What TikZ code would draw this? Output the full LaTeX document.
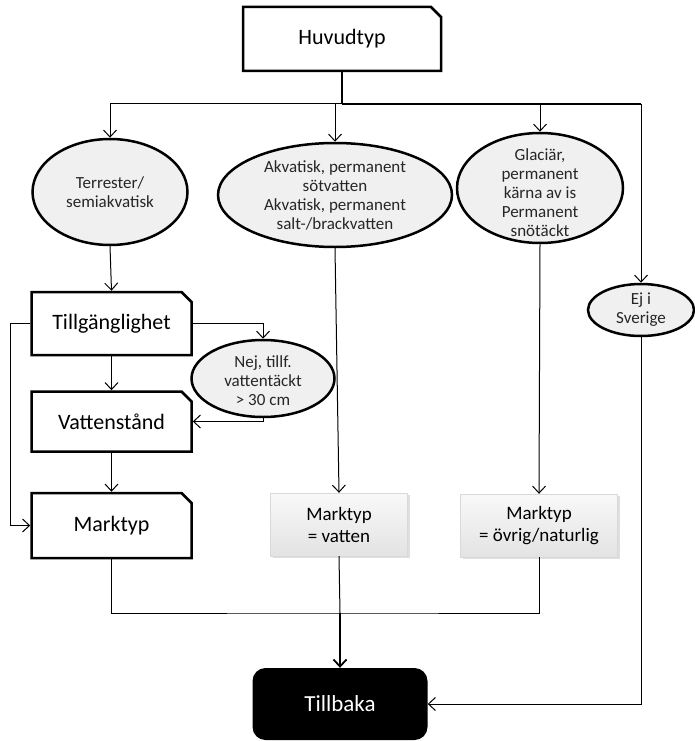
\documentclass[tikz,border=0pt]{standalone}
\usepackage{fontspec}
\setmainfont{Carlito}
\usepackage{tikz}
\usetikzlibrary{positioning,shapes.misc,shapes.geometric,shadows,arrows.meta,calc}

\begin{document}
\begin{tikzpicture}[x=1pt,y=-1pt,
		>={Straight Barb[length=7pt,width=13pt]},
		typ/.style={chamfered rectangle, chamfered rectangle corners=north east,
		chamfered rectangle xsep=5pt, chamfered rectangle ysep=5pt,
		draw, line width=2.5pt, fill=white, inner sep=0pt,
		minimum width=160pt, minimum height=62pt, font=\fontsize{22}{26}\selectfont},
		val/.style={ellipse, draw, line width=2.5pt, fill=black!6, inner sep=0pt},
		valtext/.style={align=center, text=black!85, font=\fontsize{17}{19}\selectfont},
		res/.style={rectangle, draw=gray!30, top color=gray!5, bottom color=gray!22,
		drop shadow={shadow xshift=2pt, shadow yshift=-2pt, opacity=0.25},
		minimum height=63pt, align=center, font=\fontsize{19}{22}\selectfont},
		back/.style={rectangle, rounded corners=13pt, fill=black, text=white,
		minimum width=175pt, minimum height=72pt, font=\fontsize{23}{27}\selectfont},
		flow/.style={->, line width=1pt},
		trunk/.style={line width=1.8pt}]

		\useasboundingbox (0,0) rectangle (694,741);

		% huvudtyp och val
		\node[typ, minimum width=198pt, minimum height=64pt] (huv) at (342,39) {Huvudtyp};
		\node[val, minimum width=155pt, minimum height=106pt,
		label={[valtext]center:{Terrester/\\semiakvatisk}}] (terr) at (110,192) {};
		\node[val, minimum width=234pt, minimum height=104pt,
		label={[valtext]center:{Akvatisk, permanent\\sötvatten\\Akvatisk, permanent\\salt-/brackvatten}}] (akv) at (335,195) {};
		\node[val, minimum width=166pt, minimum height=110pt,
		label={[valtext, yshift=-5pt]center:{Glaciär,\\permanent\\kärna av is\\Permanent\\snötäckt}}] (glac) at (540,188) {};
		\node[val, minimum width=106pt, minimum height=52pt,
		label={[valtext]center:{Ej i\\Sverige}}] (ejse) at (641,310) {};

		% terrester gren
		\node[typ, minimum height=63pt] (tillg) at (111.5,323.5) {Tillgänglighet};
		\node[val, minimum width=143pt, minimum height=77pt,
		label={[valtext, yshift=-2pt]center:{Nej, tillf.\\vattentäckt\\> 30 cm}}] (nej) at (263,378.5) {};
		\node[typ, minimum height=60pt] (vst) at (111.5,421.5) {Vattenstånd};
		\node[typ, minimum height=65pt] (mark) at (111.5,525.5) {Marktyp};

		% resultat
		\node[res, minimum width=137pt] (mvatten) at (339,524.5) {Marktyp\\= vatten};
		\node[res, minimum width=157pt] (movrig) at (539,525.5) {Marktyp\\= övrig/naturlig};
		\node[back] (tbk) at (340,704) {Tillbaka};

		\coordinate (hj) at (342,104);
		\coordinate (sj) at (340,613);

		\draw[trunk] (huv.south) -- (hj);
		\draw[line width=1pt] (110,104) -- (hj);
		\draw[trunk] (hj) -- (641,104);
		\draw[flow] (110,104) -- (terr.north);
		\draw[flow] (335,104) -- (akv.north);
		\draw[flow] (540,104) -- (glac.north);
		\draw[flow] (641,104) -- (ejse.north);

		\draw[flow] (terr.south) -- (tillg.north);
		\draw[flow] (tillg.east) -- (nej.north |- tillg.east) -- (nej.north);
		\draw[flow] (nej.south) -- (nej.south |- vst.east) -- (vst.east);
		\draw[flow] (tillg.south) -- (vst.north);
		\draw[flow] (vst.south) -- (mark.north);
		\draw[flow] (tillg.west) -- (10,323.5) |- (mark.west);

		\draw[flow] (akv.south) -- (mvatten.north);
		\draw[flow] (glac.south) -- (movrig.north);

		\draw[line width=1pt] (mark.south) |- (sj) -| (movrig.south);
		\draw[line width=1pt] (mvatten.south) -- (sj);
		\draw[trunk, ->] (sj) -- (tbk.north);
		\draw[flow] (ejse.south) |- (tbk.east);
	\end{tikzpicture}
\end{document}
